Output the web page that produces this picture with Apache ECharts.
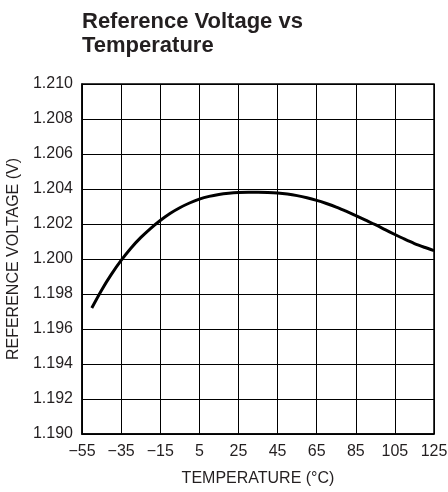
<!DOCTYPE html>
<html><head><meta charset="utf-8">
<script src="https://cdn.jsdelivr.net/npm/echarts@6/dist/echarts.min.js"></script>
<style>html,body{margin:0;padding:0;background:#fff}#c{width:448px;height:492px}</style>
</head><body><div id="c"></div>
<script>
var titleText = "Reference Voltage vs\nTemperature";
var xName = "TEMPERATURE (°C)";
var yName = "REFERENCE VOLTAGE (V)";
var xMin = -55, xMax = 125, xStep = 20;
var yMin = 1.190, yMax = 1.210, yStep = 0.002;
var temps = [-50, -45, -40, -35, -30, -25, -20, -15, -10, -5, 0, 5, 10, 15, 20, 25, 30, 35, 40, 45, 50, 55, 60, 65, 70, 75, 80, 85, 90, 95, 100, 105, 110, 115, 120, 125];
var volts = [1.19720, 1.19822, 1.19912, 1.19992, 1.20062, 1.20122, 1.20174, 1.20220, 1.20260, 1.20293, 1.20320, 1.20342, 1.20358, 1.20369, 1.20376, 1.20380, 1.20381, 1.20381, 1.20380, 1.20377, 1.20371, 1.20362, 1.20350, 1.20335, 1.20317, 1.20297, 1.20273, 1.20248, 1.20222, 1.20196, 1.20168, 1.20140, 1.20113, 1.20088, 1.20067, 1.20048];

var font = "'Liberation Sans', Arial, sans-serif";
var data = temps.map(function(t, i){ return [t - xMin, volts[i]]; });
var chart = echarts.init(document.getElementById('c'), null, {renderer:'canvas'});
chart.setOption({
  animation:false,
  title:{text:titleText, left:82, top:10, padding:0, textStyle:{fontFamily:font, fontWeight:'bold', fontSize:22, lineHeight:24, color:'#231f20'}},
  grid:{left:82, right:14, top:84, bottom:58, show:true, borderColor:'#000', borderWidth:1.5, outerBoundsMode:'none', containLabel:false},
  xAxis:{type:'value', min:0, max:xMax - xMin, interval:xStep,
    name:xName, nameLocation:'middle', nameGap:37,
    nameTextStyle:{fontFamily:font, fontSize:16, color:'#231f20'},
    axisLine:{lineStyle:{color:'#000', width:1.5}}, axisTick:{show:false},
    axisLabel:{fontFamily:font, fontSize:16, color:'#231f20', margin:10, hideOverlap:false,
      formatter:function(v){ var t = Math.round(v + xMin); return t < 0 ? '\u2212' + Math.abs(t) : String(t); }},
    splitLine:{show:true, lineStyle:{color:'#000', width:1}}},
  yAxis:{type:'value', min:yMin, max:yMax, interval:yStep,
    name:yName, nameLocation:'middle', nameGap:60, nameRotate:90,
    nameTextStyle:{fontFamily:font, fontSize:16, color:'#231f20'},
    axisLine:{show:true, lineStyle:{color:'#000', width:1.5}}, axisTick:{show:false},
    axisLabel:{fontFamily:font, fontSize:16, color:'#231f20', margin:9,
      formatter:function(v){ return v.toFixed(3); }},
    splitLine:{show:true, lineStyle:{color:'#000', width:1}}},
  series:[{type:'line', data:data, smooth:0.3, symbol:'none', lineStyle:{color:'#000', width:3}}]
});
</script></body></html>
